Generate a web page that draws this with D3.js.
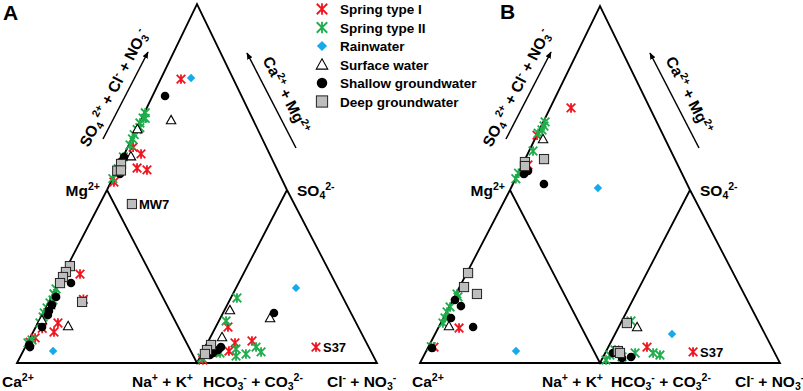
<!DOCTYPE html>
<html><head><meta charset="utf-8">
<script src="https://cdn.jsdelivr.net/npm/d3@7"></script>
<style>
body{margin:0;background:#fff}
svg{display:block}
text{font-family:"Liberation Sans",Arial,sans-serif;font-weight:bold;fill:#000}
</style>
</head><body>
<svg id="c" width="803" height="391"></svg>
<script>
// ---------------- DATA ----------------
const seriesKeys  = ["I", "II", "R", "S", "SG", "DG"];
const seriesNames = ["Spring type I", "Spring type II", "Rainwater", "Surface water", "Shallow groundwater", "Deep groundwater"];

// Cation triangle rows: [series, Mg2+ %, Na+ + K+ %]
const cationA = [
  ["I",51.4,9.3],["I",23.1,11.2],["I",17.9,11.6],["I",14.5,2.8],["I",12.1,1.2],["I",36.8,18.5],["I",20,4],
  ["II",42.8,0.3],["II",40,0.5],["II",36.4,1.8],["II",34.7,1.0],["II",31.8,0.8],["II",29,0.6],["II",26.6,1.2],["II",23.1,1.2],["II",13.3,1.7],["II",11.6,0.3],
  ["R",6.9,16.6],
  ["S",21.4,17.7],["S",33.5,1.6],["S",24.9,1.4],
  ["SG",46.2,6.9],["SG",38.2,2.6],["SG",33.5,2.7],["SG",30.1,2.7],["SG",27.7,3.3],["SG",20.8,3.5],["SG",9.2,2.6],["SG",10.5,1.5],
  ["DG",56,1.4],["DG",52.6,0.9],["DG",49.7,0.7],["DG",46.2,0.8],["DG",35.3,18.5]
];
// Anion triangle rows: [series, SO4 2- %, Cl- + NO3- %, label]
const anionA = [
  ["I",20.8,6.8],["I",11.6,15.3],["I",12.7,24.2],["I",6.9,14.3],["I",9.2,61.5,"S37"],["I",1.7,2.4],
  ["II",37.6,3.4],["II",24.3,4.0],["II",8.1,17.6],["II",4.0,19.7],["II",5.2,24.6],["II",9.2,28.2],["II",6.4,32.4],["II",5.8,9.9],["II",6.4,6.8],["II",2.9,1.3],
  ["R",43.4,33.3],
  ["S",26.0,27.6],["S",30.6,3.0],["S",15.0,6.4],["S",8,1],
  ["SG",28.9,28.3],["SG",9.2,8.7],["SG",7.5,7.9],["SG",5.8,6.0],["SG",4.6,4.9],
  ["DG",10.4,2.6],["DG",7.5,1.8],["DG",5.2,1.8]
];
// Diamond rows: [series, SO4 + Cl + NO3 %, Ca + Mg %, label]
const diamondA = [
  ["I",70.9,88.7],["I",28.6,90.8],["I",22.6,89.2],["I",27.6,83.2],["I",6.0,98.3],["I",26,97],
  ["II",42,99.5],["II",40.5,98],["II",39.4,99.3],["II",36.3,99.7],["II",35,98.5],["II",33,99.5],["II",30,99.8],["II",27.9,99.6],["II",24.9,99.3],["II",18,99.8],["II",12,99.5],["II",6.3,99.8],
  ["R",76.8,83.4],
  ["S",54.4,83.2],["S",22.4,95.8],["S",33.3,99.5],
  ["SG",57.5,93.0],["SG",18.3,99.4],["SG",15.3,99.8],["SG",11.5,97.1],
  ["DG",14.8,99.2],["DG",10.9,99.5],["DG",13,97.5],["DG",9.8,82.1,"MW7"]
];

const cationB = [
  ["I",20.2,11.6],["I",9.2,3.2],
  ["II",39.9,0.6],["II",38.2,2.0],["II",32.4,0.5],["II",29.5,0.3],["II",26.0,0.9],["II",23.1,1.2],["II",9.5,1.5],
  ["R",6.9,49.9],
  ["S",21.4,5.4],
  ["SG",36.4,1.2],["SG",32.9,6.3],["SG",26.0,4.2],["SG",20.8,19.1],["SG",8.7,2.3],
  ["DG",52.0,0.7],["DG",43.9,2.5],["DG",39.9,11.7]
];
const anionB = [
  ["I",9.2,21.5],["I",6.4,48.5,"S37"],
  ["II",24.3,5.1],["II",7.5,4.6],["II",4.6,3.2],["II",1.7,2.5],["II",5.8,16.6],["II",5.8,26.6],["II",4.6,31.0],["II",3.5,10.5],
  ["R",16.8,31.6],
  ["S",20.8,10.2],
  ["SG",5.8,4.3],["SG",2.9,10.8],["SG",3.5,15.5],
  ["DG",23.1,3.4],["DG",6.9,6.5],["DG",5.8,8.2]
];
const diamondB = [
  ["I",56.2,88.4],["I",29.9,99.9],["I",16.8,96.8],
  ["II",38,99],["II",36.3,98.5],["II",34.1,98.5],["II",31.1,99.8],["II",23.4,97.8],["II",9.3,99.8],["II",6.3,99.8],
  ["R",49.4,51.7],
  ["S",32.2,95.5],
  ["SG",12.1,96.6],["SG",15.2,95.2],["SG",20.5,82.8],
  ["DG",15.9,99.3],["DG",14.8,98.2],["DG",27.3,89.5]
];

// ---------------- LAYOUT ----------------
const panels = [
  {id:"A", x0:17, x1:377, yBase:363, yMid:190, yTop:4, letter:[3,20],
   lab:{ca:2, nak:193, hco3:203, cl:327, mg:100, so4:297},
   cation:cationA, anion:anionA, diamond:diamondA},
  {id:"B", x0:420, x1:780, yBase:363, yMid:190, yTop:6, letter:[500,19],
   lab:{ca:412, nak:603, hco3:611, cl:735, mg:505, so4:700},
   cation:cationB, anion:anionB, diamond:diamondB}
];

const colors = {I:"#f0141e", II:"#1fad4c", R:"#16a9ec", gray:"#bdbdbd"};

const svg = d3.select("#c");
svg.append("defs").append("marker")
  .attr("id","ah").attr("viewBox","0 0 10 10").attr("refX",9).attr("refY",5)
  .attr("markerWidth",7).attr("markerHeight",7).attr("markerUnits","userSpaceOnUse")
  .attr("orient","auto")
  .append("path").attr("d","M0,1 L10,5 L0,9 Z").attr("fill","#000");

function rich(t, parts, fs){
  let shift = 0;
  parts.forEach(([s, k]) => {
    const target = k==="sup" ? -0.38*fs : k==="sub" ? 0.22*fs : 0;
    t.append("tspan").attr("dy", target-shift)
      .attr("font-size", k==="n" ? fs : 0.68*fs).text(s);
    shift = target;
  });
}

function marker(g, key, x, y, big){
  const k = big ? 1.22 : 1;
  if (key==="I" || key==="II"){
    const s = 4.3*k;
    g.append("path").attr("transform",`translate(${x},${y})`)
      .attr("d",`M${-s},${-s}L${s},${s}M${-s},${s}L${s},${-s}M0,${-s*1.1}L0,${s*1.1}`)
      .attr("stroke", colors[key]).attr("stroke-width",1.8).attr("fill","none");
  } else if (key==="R"){
    const s = 4.2*k;
    g.append("path").attr("transform",`translate(${x},${y})`)
      .attr("d",`M0,${-s}L${s},0L0,${s}L${-s},0Z`)
      .attr("fill", colors.R);
  } else if (key==="S"){
    const s = 4.7*k;
    g.append("path").attr("transform",`translate(${x},${y})`)
      .attr("d",`M0,${-s}L${s},${s*0.8}L${-s},${s*0.8}Z`)
      .attr("fill","#fff").attr("stroke","#000").attr("stroke-width",1.1);
  } else if (key==="SG"){
    g.append("circle").attr("cx",x).attr("cy",y).attr("r",4.3*k).attr("fill","#000");
  } else if (key==="DG"){
    const s = 4.6*k;
    g.append("rect").attr("x",x-s).attr("y",y-s).attr("width",2*s).attr("height",2*s)
      .attr("fill",colors.gray).attr("stroke","#222").attr("stroke-width",1);
  }
}

const FS = 15.5;
panels.forEach(P => {
  const xs = d3.scaleLinear().domain([0,1]).range([P.x0, P.x1]);
  const ys = d3.scaleLinear().domain([0,0.5,1]).range([P.yBase, P.yMid, P.yTop]);
  const pt = (X,Y) => [xs(X), ys(Y)];
  const g = svg.append("g");

  // outline
  const line = d3.line().x(d=>xs(d[0])).y(d=>ys(d[1]));
  g.append("path").attr("d", line([[0,0],[0.25,0.5],[0.5,1],[0.75,0.5],[1,0]])+"Z")
    .attr("fill","none").attr("stroke","#000").attr("stroke-width",1.8).attr("stroke-linejoin","miter");
  g.append("path").attr("d", line([[0.25,0.5],[0.5,0],[0.75,0.5]]))
    .attr("fill","none").attr("stroke","#000").attr("stroke-width",1.8);

  // positions
  const cat = r => pt(0.5*r[2]/100 + 0.25*r[1]/100, 0.5*r[1]/100);
  const ani = r => pt(0.5 + 0.5*r[2]/100 + 0.25*r[1]/100, 0.5*r[1]/100);
  const dia = r => pt(0.5 + 0.25*(r[1]-r[2])/100, 0.5*(r[1]+r[2])/100);

  const pg = g.append("g");
  seriesKeys.forEach(key => {
    [[P.cation,cat],[P.anion,ani],[P.diamond,dia]].forEach(([rows,f]) => {
      rows.filter(r => r[0]===key).forEach(r => {
        const [x,y] = f(r);
        marker(pg, key, x, y, false);
        if (r[3]) g.append("text").attr("x", x+7).attr("y", y+5).attr("font-size",13).text(r[3]);
      });
    });
  });

  // vertex labels
  const L = P.lab, yb = 387;
  rich(g.append("text").attr("x",L.ca).attr("y",yb), [["Ca","n"],["2+","sup"]], FS);
  rich(g.append("text").attr("x",L.nak).attr("y",yb).attr("text-anchor","end"), [["Na","n"],["+","sup"],[" + K","n"],["+","sup"]], FS);
  rich(g.append("text").attr("x",L.hco3).attr("y",yb), [["HCO","n"],["3","sub"],["-","sup"],[" + CO","n"],["3","sub"],["2-","sup"]], FS);
  rich(g.append("text").attr("x",L.cl).attr("y",yb), [["Cl","n"],["-","sup"],[" + NO","n"],["3","sub"],["-","sup"]], FS);
  rich(g.append("text").attr("x",L.mg).attr("y",196).attr("text-anchor","end"), [["Mg","n"],["2+","sup"]], FS);
  rich(g.append("text").attr("x",L.so4).attr("y",196), [["SO","n"],["4","sub"],["2-","sup"]], FS);

  // panel letter
  g.append("text").attr("x",P.letter[0]).attr("y",P.letter[1]).attr("font-size",21).text(P.id);

  // arrows + rotated labels
  const x0 = P.x0;
  const la = [[x0+86,139],[x0+131,52]], ra = [[x0+279,148],[x0+230,53]];
  [la, ra].forEach(a => g.append("line")
    .attr("x1",a[0][0]).attr("y1",a[0][1]).attr("x2",a[1][0]).attr("y2",a[1][1])
    .attr("stroke","#000").attr("stroke-width",1.5).attr("marker-end","url(#ah)"));
  const angL = Math.atan2(la[1][1]-la[0][1], la[1][0]-la[0][0])*180/Math.PI;
  const angR = Math.atan2(ra[0][1]-ra[1][1], ra[0][0]-ra[1][0])*180/Math.PI;
  const tl = g.append("text").attr("text-anchor","middle")
    .attr("transform",`translate(${x0+97},${88}) rotate(${angL})`).attr("y",5);
  rich(tl, [["SO","n"],["4","sub"],[" 2+","sup"],[" + Cl","n"],["-","sup"],[" + NO","n"],["3","sub"],["-","sup"]], FS);
  const tr = g.append("text").attr("text-anchor","middle")
    .attr("transform",`translate(${x0+269},${95}) rotate(${angR})`).attr("y",5);
  rich(tr, [["Ca","n"],["2+","sup"],[" + Mg","n"],["2+","sup"]], FS);
});

// legend
const lg = svg.append("g");
seriesKeys.forEach((k,i) => {
  const y = 9 + i*18.5;
  marker(lg, k, 322, y, true);
  lg.append("text").attr("x",340).attr("y",y+5).attr("font-size",13.5).text(seriesNames[i]);
});
</script>
</body></html>
